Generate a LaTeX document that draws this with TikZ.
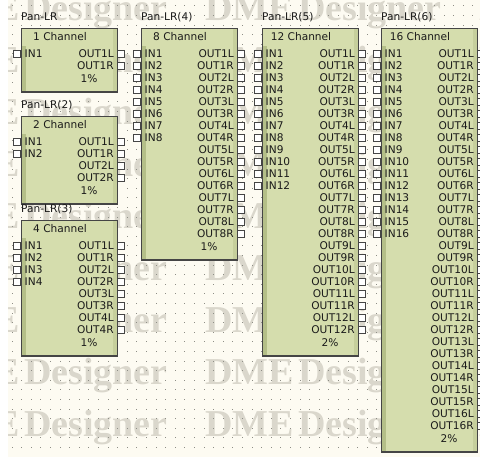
\documentclass[tikz,border=0pt]{standalone}
\usepackage{fontspec}
\setmainfont{DejaVu Sans}
\newfontfamily\wmfont{Liberation Serif}
\definecolor{canvasc}{HTML}{FDFBF2}
\definecolor{wmc}{HTML}{DAD7CC}
\definecolor{dotc}{HTML}{8E8E86}
\definecolor{blkc}{HTML}{D5DDAD}
\definecolor{blkdark}{HTML}{B4BF88}
\definecolor{blkside}{HTML}{C6CF9C}
\definecolor{edgec}{HTML}{454545}
\definecolor{txtc}{HTML}{1A1A1A}
\tikzset{
  txt/.style={inner sep=0pt, text height=7.8pt, text depth=0pt, font=\fontsize{10.6}{12}\selectfont, text=txtc},
  lbl/.style={txt, anchor=west},
  port/.style={draw=edgec, fill=white, minimum size=7.4pt, inner sep=0pt, line width=0.8pt},
  wmtxt/.style={inner sep=0pt, anchor=base west, text=wmc, font=\wmfont\bfseries\fontsize{38}{38}\selectfont}
}
\newcommand\panblock[9]{%
  \pgfmathsetmacro\pbTop{#4-26}%
  \pgfmathsetmacro\pbBot{#4+12*#6+14}%
  \fill[blkc] (#2,\pbTop) rectangle (#3,\pbBot);
  \fill[blkdark] (#2,#4-8) rectangle (#2+5,\pbBot);
  \fill[blkside] (#3-4,\pbTop) rectangle (#3,\pbBot);
  \draw[edgec, line width=0.9pt] (#2,\pbTop) rectangle (#3,\pbBot);
  \draw[edgec, line width=1.6pt] (#2,\pbBot) -- (#3,\pbBot);
  \node[lbl] (#1-label) at (#2,#4-37) {#8};
  \node[txt] (#1-title) at (#2+39,#4-17) {#7};
  \foreach \k in {1,...,#5} {
    \pgfmathsetmacro\yy{#4+12*(\k-1)}
    \node[port, anchor=east] (#1-in\k) at (#2,\yy) {};
    \node[txt, anchor=west] (#1-inl\k) at (#2+3.5,\yy) {IN\k};
  }
  \foreach \k in {1,...,#6} {
    \pgfmathsetmacro\yy{#4+12*(\k-1)}
    \pgfmathtruncatemacro\ch{(\k+1)/2}
    \pgfmathtruncatemacro\odd{mod(\k,2)}
    \ifnum\odd=1 \def\side{L}\else\def\side{R}\fi
    \node[txt, anchor=east] (#1-outl\k) at (#3-3,\yy) {OUT\ch\side};
    \node[port, anchor=west] (#1-out\k) at (#3,\yy) {};
  }
  \node[txt] (#1-pct) at (#3-28,\pbBot-13) {#9};
}
\begin{document}
\begin{tikzpicture}[x=1pt,y=-1pt]
\useasboundingbox (0,0) rectangle (480,462);
\clip (0,0) rectangle (480,462);
\fill[white] (0,0) rectangle (480,462);
\fill[canvasc] (8,0) rectangle (480,457);
\begin{scope}
  \clip (8,0) rectangle (480,457);
  \foreach \r in {0,...,8} {
    \pgfmathsetmacro\by{437-52*\r}
    \node[wmtxt] (wm\r a) at (-69,\by) {DME};
    \node[wmtxt] (wm\r b) at (24,\by) {Designer};
    \node[wmtxt] (wm\r c) at (205,\by) {DME};
    \node[wmtxt] (wm\r d) at (298,\by) {Designer};
    \node[wmtxt] (wm\r e) at (479,\by) {DME};
  }
  \foreach \i in {0,...,49} {
    \foreach \j in {0,...,47} {
      \fill[dotc] (12.1+9.6*\i-0.5,6+9.6*\j-0.5) rectangle ++(1,1);
    }
  }
\end{scope}
\panblock{b1}{21}{117}{54}{1}{2}{1 Channel}{Pan-LR}{1\%}
\panblock{b2}{21}{117}{142}{2}{4}{2 Channel}{Pan-LR(2)}{1\%}
\panblock{b3}{21}{117}{246}{4}{8}{4 Channel}{Pan-LR(3)}{1\%}
\panblock{b4}{141}{237}{54}{8}{16}{8 Channel}{Pan-LR(4)}{1\%}
\panblock{b5}{262}{358}{54}{12}{24}{12 Channel}{Pan-LR(5)}{2\%}
\panblock{b6}{381}{477}{54}{16}{32}{16 Channel}{Pan-LR(6)}{2\%}
\end{tikzpicture}
\end{document}
